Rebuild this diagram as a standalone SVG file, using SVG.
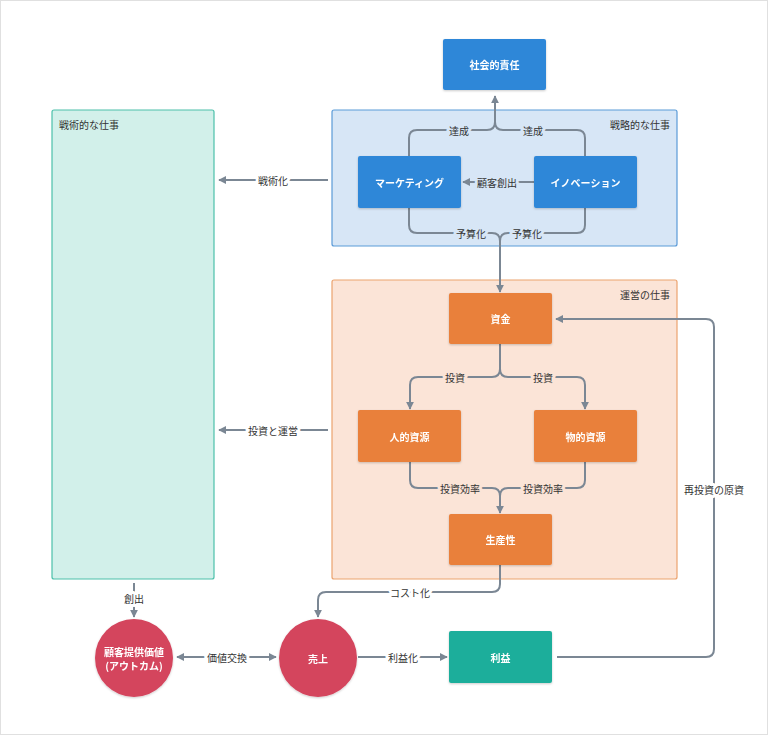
<svg xmlns="http://www.w3.org/2000/svg" width="768" height="735" viewBox="0 0 768 735">
<defs>
<style>
text{font-family:"Noto Sans CJK JP","Noto Sans",sans-serif;}
.nt{fill:#fff;font-size:10px;font-weight:bold;text-anchor:middle;dominant-baseline:central;}
.ct{fill:#333;font-size:10px;dominant-baseline:central;}
.lb{fill:#333;font-size:10px;text-anchor:middle;dominant-baseline:central;paint-order:stroke;stroke-width:6px;stroke-linejoin:round;}
.c{fill:none;stroke:#7b8794;stroke-width:2;}
.blue{fill:#2e87d8;}
.orange{fill:#e9803a;}
</style>
<marker id="ah" viewBox="0 0 10 10" refX="9" refY="5" markerWidth="8" markerHeight="8" markerUnits="userSpaceOnUse" orient="auto-start-reverse"><path d="M0,0 L10,5 L0,10 z" fill="#7b8794"/></marker>
<filter id="sh" x="-10%" y="-10%" width="120%" height="130%"><feDropShadow dx="0" dy="1" stdDeviation="1" flood-color="#000" flood-opacity="0.2"/></filter>
</defs>
<rect x="0.5" y="0.5" width="767" height="734" fill="#fff" stroke="#e0e0e0"/>
<g id="containers">
<g id="tactical"><rect x="52" y="110" width="162" height="469" rx="2" fill="#d2f0ea" stroke="#4cc0aa" stroke-width="1.2"/><text class="ct" x="59" y="124">戦術的な仕事</text></g>
<g id="strategic"><rect x="332" y="110" width="345" height="136" rx="2" fill="#d7e6f6" stroke="#5b9bd8" stroke-width="1.2"/><text class="ct" x="670" y="124" text-anchor="end">戦略的な仕事</text></g>
<g id="operations"><rect x="332" y="280" width="345" height="299" rx="2" fill="#fbe4d7" stroke="#eba36f" stroke-width="1.2"/><text class="ct" x="670" y="294" text-anchor="end">運営の仕事</text></g>
</g>
<g id="connectors">
<path class="c" d="M409,156 V138 Q409,130 417,130 H487 Q495,130 495,122 V96" marker-end="url(#ah)"/>
<path class="c" d="M585,156 V138 Q585,130 577,130 H503 Q495,130 495,122"/>
<path class="c" d="M534,182 H463" marker-end="url(#ah)"/>
<path class="c" d="M409,208 V225 Q409,233 417,233 H492 Q500,233 500,241 V292" marker-end="url(#ah)"/>
<path class="c" d="M585,208 V225 Q585,233 577,233 H508 Q500,233 500,241"/>
<path class="c" d="M328,180 H219" marker-end="url(#ah)"/>
<path class="c" d="M328,430 H219" marker-end="url(#ah)"/>
<path class="c" d="M500,344 V369 Q500,377 492,377 H418 Q410,377 410,385 V409" marker-end="url(#ah)"/>
<path class="c" d="M500,344 V369 Q500,377 508,377 H577 Q585,377 585,385 V409" marker-end="url(#ah)"/>
<path class="c" d="M410,462 V480 Q410,488 418,488 H492 Q500,488 500,496 V513" marker-end="url(#ah)"/>
<path class="c" d="M585,462 V480 Q585,488 577,488 H508 Q500,488 500,496"/>
<path class="c" d="M500,565 V584 Q500,592 492,592 H326 Q318,592 318,600 V617" marker-end="url(#ah)"/>
<path class="c" d="M134,583 V617" marker-end="url(#ah)"/>
<path class="c" d="M177,657 H276" marker-start="url(#ah)" marker-end="url(#ah)"/>
<path class="c" d="M358,657 H447" marker-end="url(#ah)"/>
<path class="c" d="M557,657 H706 Q714,657 714,649 V327 Q714,319 706,319 H556" marker-end="url(#ah)"/>
<text class="lb" x="459" y="130" stroke="#d7e6f6">達成</text>
<text class="lb" x="533" y="130" stroke="#d7e6f6">達成</text>
<text class="lb" x="497" y="182" stroke="#d7e6f6">顧客創出</text>
<text class="lb" x="471" y="233" stroke="#d7e6f6">予算化</text>
<text class="lb" x="527" y="233" stroke="#d7e6f6">予算化</text>
<text class="lb" x="273" y="180" stroke="#fff">戦術化</text>
<text class="lb" x="273" y="430" stroke="#fff">投資と運営</text>
<text class="lb" x="455" y="377" stroke="#fbe4d7">投資</text>
<text class="lb" x="543" y="377" stroke="#fbe4d7">投資</text>
<text class="lb" x="460" y="488" stroke="#fbe4d7">投資効率</text>
<text class="lb" x="543" y="488" stroke="#fbe4d7">投資効率</text>
<text class="lb" x="410" y="592" stroke="#fff">コスト化</text>
<text class="lb" x="134" y="598" stroke="#fff">創出</text>
<text class="lb" x="227" y="657" stroke="#fff">価値交換</text>
<text class="lb" x="403" y="657" stroke="#fff">利益化</text>
<text class="lb" x="714" y="489" stroke="#fff">再投資の原資</text>
</g>
<g id="csr" filter="url(#sh)"><rect class="blue" x="443" y="39" width="103" height="51" rx="2"/><text class="nt" x="494.5" y="64.5">社会的責任</text></g>
<g id="marketing" filter="url(#sh)"><rect class="blue" x="358" y="156" width="103" height="52" rx="2"/><text class="nt" x="409.5" y="182">マーケティング</text></g>
<g id="innovation" filter="url(#sh)"><rect class="blue" x="534" y="156" width="103" height="52" rx="2"/><text class="nt" x="585.5" y="182">イノベーション</text></g>
<g id="funds" filter="url(#sh)"><rect class="orange" x="449" y="293" width="103" height="51" rx="2"/><text class="nt" x="500.5" y="318.5">資金</text></g>
<g id="human" filter="url(#sh)"><rect class="orange" x="358" y="410" width="103" height="52" rx="2"/><text class="nt" x="409.5" y="436">人的資源</text></g>
<g id="physical" filter="url(#sh)"><rect class="orange" x="534" y="410" width="103" height="52" rx="2"/><text class="nt" x="585.5" y="436">物的資源</text></g>
<g id="productivity" filter="url(#sh)"><rect class="orange" x="449" y="514" width="103" height="51" rx="2"/><text class="nt" x="500.5" y="539.5">生産性</text></g>
<g id="value" filter="url(#sh)"><circle cx="134" cy="658" r="39" fill="#d4445d"/><text class="nt" x="134" y="651">顧客提供価値</text><text class="nt" x="134" y="665">(アウトカム)</text></g>
<g id="sales" filter="url(#sh)"><circle cx="318" cy="658" r="39" fill="#d4445d"/><text class="nt" x="318" y="658">売上</text></g>
<g id="profit" filter="url(#sh)"><rect x="449" y="631" width="103" height="52" rx="2" fill="#1dae9b"/><text class="nt" x="500.5" y="657">利益</text></g>
</svg>
